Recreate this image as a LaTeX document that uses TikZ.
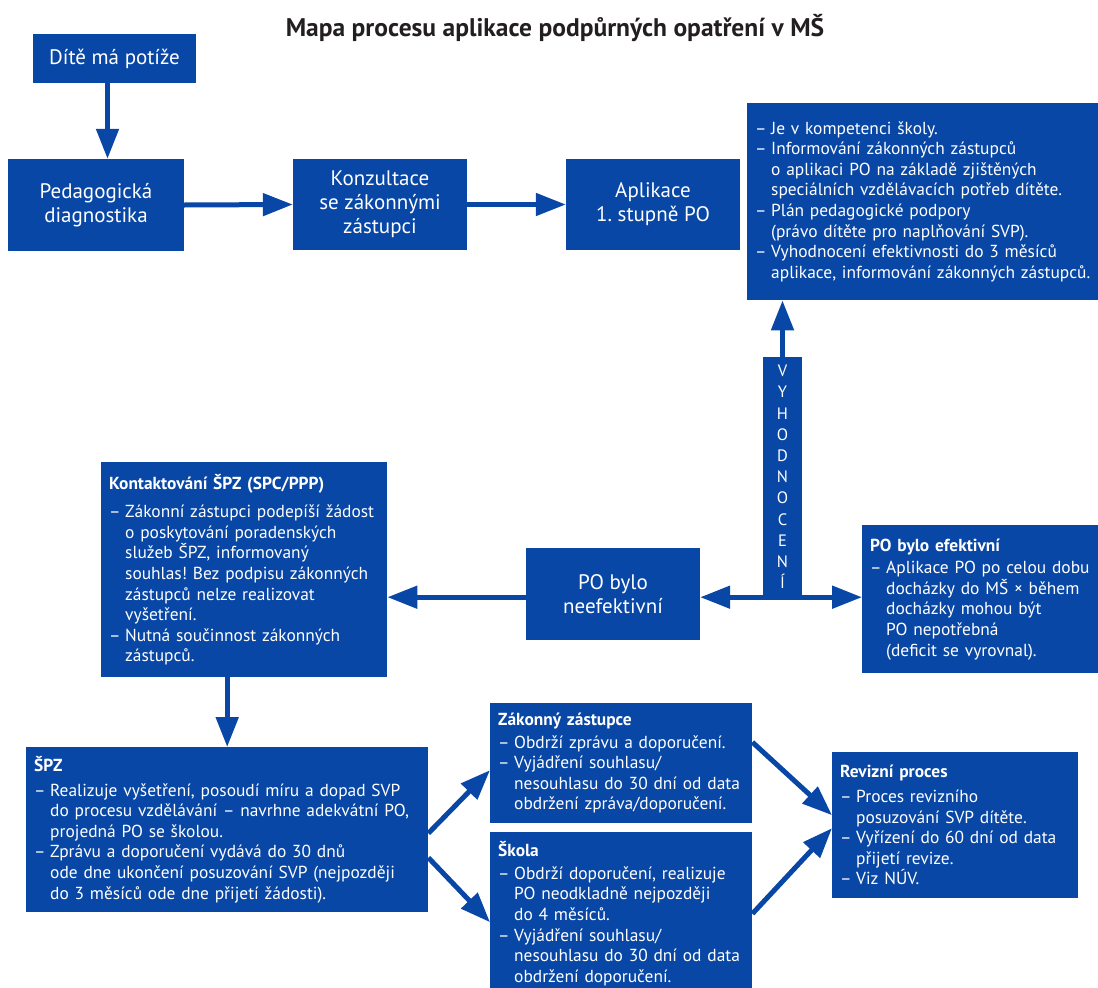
\documentclass[tikz,border=0pt]{standalone}
\usepackage{fontspec}
\setmainfont{PT Sans}
\usetikzlibrary{arrows.meta}
\frenchspacing
\definecolor{modra}{RGB}{8,71,165}
\definecolor{titulek}{RGB}{35,31,32}
\newcommand{\pom}{\makebox[16pt][l]{–}}
\newcommand{\odr}{\hspace*{16pt}}
\tikzset{krok/.style={fill=modra, text=white, align=center, inner sep=0pt,
                      font=\fontsize{21}{24}\selectfont},
         popis/.style={fill=modra, text=white, align=left, anchor=north west,
                       inner xsep=8pt, inner ysep=6pt,
                       font=\fontsize{17.4}{20.6}\selectfont},
         sipka/.style={line width=5pt, draw=modra,
                       -{Triangle[length=30pt,width=22pt]}}}

\begin{document}
\begin{tikzpicture}[x=1pt,y=-1pt]
\useasboundingbox (0,0) rectangle (1098,988);
\node[font=\fontsize{25.5}{30}\selectfont\bfseries, text=titulek] (nazev) at (555,28) {Mapa procesu aplikace podpůrných opatření v MŠ};
% horni rada
\node[krok, minimum width=163pt, minimum height=49pt] (dite) at (114.5,58.5) {Dítě má potíže};
\node[krok, minimum width=176pt, minimum height=92pt] (diag) at (96,205) {Pedagogická\\diagnostika};
\node[krok, minimum width=174pt, minimum height=91pt] (konz) at (380,204.5) {Konzultace\\se zákonnými\\zástupci};
\node[krok, minimum width=174pt, minimum height=91pt] (apl) at (653,204.5) {Aplikace\\1. stupně PO};
\node[popis, text width=342pt, minimum height=197pt] (prava) at (747,103) {\pom Je v kompetenci školy.\\
\pom Informování zákonných zástupců\\
\odr o aplikaci PO na základě zjištěných\\
\odr speciálních vzdělávacích potřeb dítěte.\\
\pom Plán pedagogické podpory\\
\odr (právo dítěte pro naplňování SVP).\\
\pom Vyhodnocení efektivnosti do 3 měsíců\\
\odr aplikace, informování zákonných zástupců.};
% vyhodnoceni
\node[fill=modra, text=white, minimum width=39pt, minimum height=240pt, inner sep=0pt, align=center,
      font=\fontsize{16.5}{21.2}\selectfont] (vyhod) at (782.5,477) {V\\Y\\H\\O\\D\\N\\O\\C\\E\\N\\Í};
\node[krok, minimum width=174pt, minimum height=92pt] (neef) at (613,594) {PO bylo\\neefektivní};
\node[popis, text width=228pt, minimum height=148pt] (efekt) at (862,525) {\textbf{PO bylo efektivní}\\[2pt]
\pom Aplikace PO po celou dobu\\
\odr docházky do MŠ × během\\
\odr docházky mohou být\\
\odr PO nepotřebná\\
\odr (deficit se vyrovnal).};
\node[popis, text width=270pt, minimum height=215pt] (kontakt) at (101,462) {\textbf{Kontaktování ŠPZ (SPC/PPP)}\\[8pt]
\pom Zákonní zástupci podepíší žádost\\
\odr o poskytování poradenských\\
\odr služeb ŠPZ, informovaný\\
\odr souhlas! Bez podpisu zákonných\\
\odr zástupců nelze realizovat\\
\odr vyšetření.\\
\pom Nutná součinnost zákonných\\
\odr zástupců.};
% spodni rada
\node[popis, text width=386pt, minimum height=165pt] (spz) at (26,747) {\textbf{ŠPZ}\\[4pt]
\pom Realizuje vyšetření, posoudí míru a dopad SVP\\
\odr do procesu vzdělávání – navrhne adekvátní PO,\\
\odr projedná PO se školou.\\
\pom Zprávu a doporučení vydává do 30 dnů\\
\odr ode dne ukončení posuzování SVP (nejpozději\\
\odr do 3 měsíců ode dne přijetí žádosti).};
\node[popis, text width=246pt, minimum height=120pt] (zz) at (490,703) {\textbf{Zákonný zástupce}\\[2pt]
\pom Obdrží zprávu a doporučení.\\
\pom Vyjádření souhlasu/\\
\odr nesouhlasu do 30 dní od data\\
\odr obdržení zpráva/doporučení.};
\node[popis, text width=246pt, minimum height=163pt] (skola) at (490,832) {\textbf{Škola}\\[2pt]
\pom Obdrží doporučení, realizuje\\
\odr PO neodkladně nejpozději\\
\odr do 4 měsíců.\\
\pom Vyjádření souhlasu/\\
\odr nesouhlasu do 30 dní od data\\
\odr obdržení doporučení.};
\node[popis, text width=230pt, minimum height=146pt] (reviz) at (832,752) {\textbf{Revizní proces}\\[4pt]
\pom Proces revizního\\
\odr posuzování SVP dítěte.\\
\pom Vyřízení do 60 dní od data\\
\odr přijetí revize.\\
\pom Viz NÚV.};
% sipky
\draw[sipka] ([xshift=-7pt]dite.south) -- ([xshift=-7pt]dite.south |- diag.north);
\draw[sipka] (diag.east) -- (konz.west);
\draw[sipka] (konz.east) -- (apl.west);
\draw[sipka] (vyhod.north) -- (vyhod.north |- prava.south);
\draw[sipka] (vyhod.south) -- (vyhod.south -| neef.east);
\draw[sipka] (vyhod.south) -- (vyhod.south -| efekt.west);
\draw[sipka] (neef.west |- vyhod.south) -- (vyhod.south -| kontakt.east);
\draw[sipka] (spz.north |- kontakt.south) -- (spz.north);
\draw[sipka] ([yshift=-3.5pt]spz.east) -- ([yshift=-7pt]zz.west);
\draw[sipka] ([yshift=-28pt]spz.east) -- ([yshift=-8.5pt]skola.west);
\draw[sipka] ([yshift=21pt]zz.east) -- ([yshift=10pt]reviz.west);
\draw[sipka] (skola.east) -- ([yshift=-3pt]reviz.west);
\end{tikzpicture}
\end{document}
